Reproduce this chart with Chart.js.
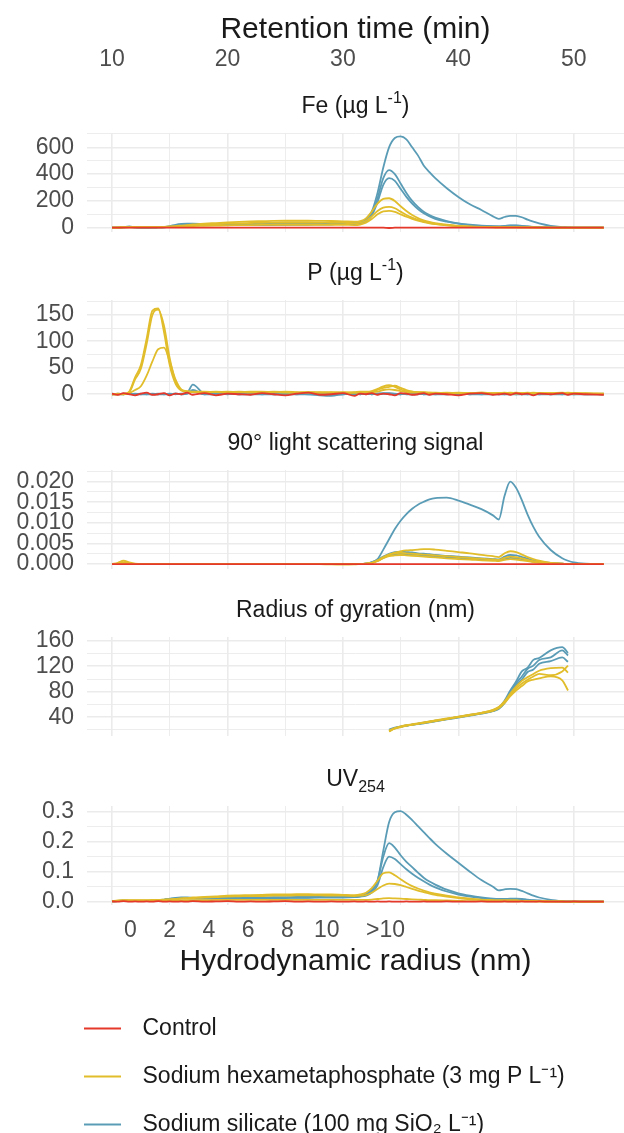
<!DOCTYPE html>
<html>
<head>
<meta charset="utf-8">
<script src="https://cdn.jsdelivr.net/npm/chart.js@4/dist/chart.umd.min.js"></script>
<style>
html, body { margin: 0; padding: 0; background: #fff; overflow: hidden; }
body { width: 624px; height: 1133px; position: relative; }
canvas { position: absolute; left: 0; }
</style>
</head>
<body>
<canvas id="fe" width="624" height="236" style="top:0px"></canvas>
<canvas id="p" width="624" height="168" style="top:236px"></canvas>
<canvas id="ls" width="624" height="168" style="top:406px"></canvas>
<canvas id="rg" width="624" height="168" style="top:573px"></canvas>
<canvas id="uv" width="624" height="250" style="top:742px"></canvas>
<canvas id="key" width="624" height="400" style="top:992px"></canvas>
<script>
// retention time (min) shared by every trace
var retTime = [10,10.5,11,11.5,12,12.5,13,13.5,14,14.5,
  15,15.5,16,16.5,17,18,19,20,21,22,
  23,24,25,26,27,28,29,30,31,31.5,
  32,32.5,33,33.5,34,34.5,35,35.5,36,36.5,
  37,37.5,38,39,40,41,42,43,43.5,44,
  44.5,45,45.5,46,46.5,47,48,49,49.5,50,
  51,52.6];

var timeTicks = [10, 20, 30, 40, 50];
var timeGrid = [10, 15, 20, 25, 30, 35, 40, 45, 50];
var radiusTickPos = [11.6, 15.0, 18.4, 21.8, 25.2, 28.6, 33.7];
var radiusLabels = ['0', '2', '4', '6', '8', '10', '>10'];

var legendNames = ['Control', 'Sodium hexametaphosphate (3 mg P L\u207B\u00B9)', 'Sodium silicate (100 mg SiO\u2082 L\u207B\u00B9)'];

// Fe (ug/L)
var feControl = [0,0,1,0,0,1,0,0,1,0, 0,1,0,0,1,0,0,1,0,0, 1,0,0,1,0,0,1,0,0,1, 0,1,0,0,-2,0,1,0,0,1, 0,0,1,0,0,1,0,0,1,0, 0,1,0,0,1,0,0,1,0,0, 1,0];
var feHex1 = [0,2,4,6,5,5,5,5,6,7, 9,12,16,20,24,30,35,40,44,47, 49,51,52,52,52,51,50,48,46,50, 70,120,180,215,220,200,160,125,95,72, 55,43,34,22,14,9,6,4,4,4, 4,4,3,3,2,2,1,0,0,0, 0,0];
var feHex2 = [0,1,3,4,4,4,4,4,5,5, 7,9,12,15,18,22,26,30,33,35, 37,38,39,39,39,38,37,36,34,38, 52,85,125,150,155,145,120,95,75,58, 45,36,29,19,12,8,5,4,3,3, 3,3,3,2,2,1,1,0,0,0, 0,0];
var feHex3 = [0,1,2,3,3,3,3,3,3,4, 5,6,8,10,12,14,16,18,19,20, 21,22,22,22,22,22,21,21,20,24, 38,65,100,122,125,118,100,82,66,52, 41,33,27,18,11,7,5,3,3,3, 3,3,2,2,1,1,1,0,0,0, 0,0];
var feSil1 = [0,0,5,10,3,1,1,2,3,5, 12,22,28,30,30,28,27,27,28,28, 29,30,30,31,32,33,34,35,36,40, 60,120,260,450,600,670,682,660,600,540, 465,415,370,295,230,175,132,85,66,80, 89,88,78,60,45,32,14,5,3,1, 0,0];
var feSil2 = [0,0,3,6,2,1,1,1,2,3, 8,15,20,22,22,21,20,20,21,21, 22,22,23,23,24,25,26,27,28,32, 50,100,220,370,430,400,330,260,200,155, 120,95,75,50,33,22,15,11,10,13, 17,17,14,10,7,5,2,1,0,0, 0,0];
var feSil3 = [0,0,2,4,2,1,1,1,2,3, 7,14,18,20,20,20,20,20,20,21, 21,22,22,23,24,25,26,27,28,31, 45,90,190,320,370,350,290,230,180,140, 108,85,66,45,30,20,14,10,9,12, 15,15,12,9,6,4,2,1,0,0, 0,0];

// P (ug/L)
var pControl = [1,-1,2,0,-2,1,3,-1,0,2, -2,1,0,3,-1,2,-2,1,0,-1, 2,0,-2,1,3,-1,0,2,-3,1, 0,2,-1,1,0,-2,2,1,-1,0, 2,-1,1,0,-2,1,2,-1,0,1, -1,2,0,1,-2,1,0,2,-1,1, 0,-1];
var pHex1 = [0,1,0,5,32,55,105,158,162,118, 55,20,7,5,4,4,5,4,5,4, 4,5,4,3,4,3,4,3,4,5, 5,6,10,15,17,14,9,6,5,4, 4,3,3,2,3,2,3,2,2,3, 2,3,2,2,3,2,2,2,3,2, 2,1];
var pHex2 = [0,0,1,4,28,48,95,150,160,130, 68,24,8,6,5,5,4,5,4,5, 5,4,5,4,3,4,3,4,3,4, 4,5,8,12,14,16,12,8,5,4, 3,3,2,3,2,2,3,2,2,2, 3,2,2,3,2,2,2,3,2,2, 1,1];
var pHex3 = [0,0,0,2,8,15,35,62,85,88, 62,28,9,5,4,4,4,3,4,3, 3,4,3,3,4,3,3,2,3,3, 3,4,5,8,9,8,6,4,3,3, 3,2,2,2,2,2,2,1,2,2, 2,1,2,2,1,2,1,2,1,1, 1,0];
var pSil1 = [0,1,0,1,0,0,1,0,0,1, 0,1,0,2,18,1,0,1,0,0, 1,0,0,1,0,-2,-3,0,1,0, 1,0,1,2,1,0,1,0,0,1, 0,1,0,0,1,0,0,1,0,0, 1,0,0,1,0,0,1,0,0,1, 0,0];
var pSil2 = [0,0,1,0,1,0,0,1,0,0, 1,0,1,1,8,0,1,0,1,0, 0,1,0,0,1,0,-1,1,0,1, 0,1,0,1,2,1,0,1,0,0, 1,0,0,1,0,1,0,0,1,0, 0,1,0,0,1,0,0,1,0,0, 1,0];
var pSil3 = [1,0,0,1,0,1,0,0,1,0, 0,1,0,1,5,0,0,1,0,1, 0,0,1,0,0,1,0,0,1,0, 1,0,1,1,1,0,0,1,0,1, 0,0,1,0,1,0,1,0,0,1, 0,0,1,0,0,1,0,0,1,0, 0,1];

// 90 degree light scattering
var lsControl = [0,0,0,0,0,0,0,0,0,0, 0,0,0,0,0,0,0,0,0,0, 0,0,0,0,0,0,0,0,0,0, 0,0,0,0,0,0,0,0,0,0, 0,0,0,0,0,0,0,0,0,0, 0,0,0,0,0,0,0,0,0,0, 0,0];
var lsHex1 = [0,0.0003,0.0008,0.0004,0.0001,0,0,0,0,0, 0,0,0,0,0,0,0,0,0,0, 0,0,0,0,0,0,-0.0001,-0.0001,-0.0001,0, 0.0001,0.0003,0.0008,0.0016,0.0023,0.0028,0.0031,0.0033,0.0034,0.0035, 0.0036,0.0036,0.0035,0.0032,0.0029,0.0026,0.0022,0.0019,0.0017,0.0026, 0.0031,0.0029,0.0023,0.0017,0.0012,0.0008,0.0003,0.0001,0,0, 0,0];
var lsHex2 = [0,0.0001,0.0004,0.0002,0,0,0,0,0,0, 0,0,0,0,0,0,0,0,0,0, 0,0,0,0,0,0,0,-0.0001,0,0, 0.0001,0.0003,0.0009,0.0017,0.0023,0.0026,0.0027,0.0026,0.0025,0.0024, 0.0023,0.0022,0.0021,0.0019,0.0017,0.0015,0.0013,0.0011,0.001,0.0015, 0.0018,0.0017,0.0014,0.001,0.0007,0.0005,0.0002,0.0001,0,0, 0,0];
var lsHex3 = [0,0,0.0002,0.0001,0,0,0,0,0,0, 0,0,0,0,0,0,0,0,0,0, 0,0,0,0,0,0,0,0,0,0, 0.0001,0.0002,0.0007,0.0014,0.0019,0.0021,0.0022,0.0021,0.002,0.0019, 0.0018,0.0017,0.0016,0.0014,0.0012,0.0011,0.0009,0.0008,0.0007,0.001, 0.0012,0.0011,0.0009,0.0007,0.0005,0.0003,0.0001,0,0,0, 0,0];
var lsSil1 = [0,0,0,0,0,0,0,0,0,0, 0,0,0,0,0,0,0,0,0,0, 0,0,0,0,0,0,0,0,0,0, 0.0001,0.0005,0.0012,0.0035,0.006,0.0085,0.0105,0.0121,0.0134,0.0144, 0.0151,0.0157,0.016,0.0161,0.0154,0.0144,0.0133,0.0118,0.0108,0.0165, 0.02,0.0185,0.0155,0.012,0.009,0.0066,0.0034,0.0014,0.0008,0.0004, 0.0001,0];
var lsSil2 = [0,0,0,0,0,0,0,0,0,0, 0,0,0,0,0,0,0,0,0,0, 0,0,0,0,0,0,0,0,0,0, 0.0001,0.0004,0.001,0.0018,0.0025,0.0029,0.003,0.0029,0.0028,0.0026, 0.0025,0.0024,0.0022,0.002,0.0018,0.0016,0.0014,0.0012,0.0011,0.0018, 0.0022,0.0021,0.0017,0.0013,0.0009,0.0006,0.0003,0.0001,0,0, 0,0];
var lsSil3 = [0,0,0,0,0,0,0,0,0,0, 0,0,0,0,0,0,0,0,0,0, 0,0,0,0,0,0,0,0,0,0, 0.0001,0.0003,0.0008,0.0015,0.0021,0.0024,0.0025,0.0024,0.0023,0.0022, 0.0021,0.002,0.0019,0.0017,0.0015,0.0013,0.0011,0.001,0.0009,0.0012, 0.0015,0.0014,0.0012,0.0009,0.0006,0.0004,0.0002,0.0001,0,0, 0,0];

// radius of gyration (nm), only measured from ~34 min
var rgControl = [null,null,null,null,null,null,null,null,null,null, null,null,null,null,null,null,null,null,null,null, null,null,null,null,null,null,null,null,null,null, null,null,null,null,null,null,null,null,null,null, null,null,null,null,null,null,null,null,null,null, null,null,null,null,null,null,null,null,null,null, null,null];
var rgHex1 = [null,null,null,null,null,null,null,null,null,null, null,null,null,null,null,null,null,null,null,null, null,null,null,null,null,null,null,null,null,null, null,null,null,null,18,23,25.5,27.5,29,30.5, 32,33.5,35,38,41,44,47,51.5,56,65, 75,85,93,99,104,108,106,112,121,null, null,null];
var rgHex2 = [null,null,null,null,null,null,null,null,null,null, null,null,null,null,null,null,null,null,null,null, null,null,null,null,null,null,null,null,null,null, null,null,null,null,19.5,22,24.5,26.5,28,29.5, 31,32.5,34,37,40,43,46,50,54,62, 73,82,89,96,99,101,104,98,82,null, null,null];
var rgHex3 = [null,null,null,null,null,null,null,null,null,null, null,null,null,null,null,null,null,null,null,null, null,null,null,null,null,null,null,null,null,null, null,null,null,null,17.5,22.5,25,27,28.5,30, 31.5,33,34.5,37.5,40.5,43.5,47,51,55.5,64, 77,88,97,103,108,113,117,118,110,null, null,null];
var rgSil1 = [null,null,null,null,null,null,null,null,null,null, null,null,null,null,null,null,null,null,null,null, null,null,null,null,null,null,null,null,null,null, null,null,null,null,20,23,25,27,28,29.5, 31,32.5,34,37,40,43,46,50,54,63, 78,93,104,116,121,130,134,145,137,null, null,null];
var rgSil2 = [null,null,null,null,null,null,null,null,null,null, null,null,null,null,null,null,null,null,null,null, null,null,null,null,null,null,null,null,null,null, null,null,null,null,19,22.5,25.5,26.5,28.5,30, 31.5,33,34.5,37.5,40.5,43.5,46.5,50.5,55,66, 82,96,112,118,130,133,145,150,141,null, null,null];
var rgSil3 = [null,null,null,null,null,null,null,null,null,null, null,null,null,null,null,null,null,null,null,null, null,null,null,null,null,null,null,null,null,null, null,null,null,null,20.5,23.5,25,27,28.5,29, 30.5,32,33.5,36.5,39.5,42.5,45.5,49.5,53,62, 76,90,99,111,115,124,128,134,127,null, null,null];

// UV 254
var uvControl = [0.001,0,0.002,0,0.001,0,0.001,0,0.002,0, 0.001,0,0.001,0,0.002,0,0.001,0.002,0,0.001, 0,0.001,0.002,0,0.001,0,0.001,0,0.001,0, 0.001,0,0.001,0,0.001,0,0,0.001,0,0, 0.001,0,0,0.001,0,0,0.001,0,0,0.001, 0,0,0.001,0,0,0.001,0,0,0,0.001, 0,0];
var uvHex1 = [0.002,0.004,0.005,0.005,0.005,0.005,0.005,0.006,0.006,0.007, 0.008,0.009,0.011,0.012,0.014,0.016,0.018,0.02,0.021,0.022, 0.023,0.024,0.024,0.025,0.025,0.024,0.024,0.023,0.022,0.024, 0.03,0.045,0.07,0.095,0.098,0.088,0.075,0.062,0.052,0.044, 0.037,0.031,0.027,0.02,0.014,0.01,0.007,0.005,0.004,0.004, 0.004,0.004,0.003,0.003,0.002,0.002,0.001,0.001,0,0, 0,0];
var uvHex2 = [0.001,0.003,0.004,0.004,0.004,0.004,0.004,0.005,0.005,0.006, 0.007,0.008,0.01,0.011,0.012,0.014,0.015,0.017,0.018,0.019, 0.019,0.02,0.02,0.021,0.021,0.021,0.02,0.02,0.019,0.02, 0.022,0.03,0.042,0.054,0.06,0.059,0.055,0.049,0.043,0.037, 0.032,0.027,0.023,0.017,0.012,0.008,0.006,0.004,0.004,0.004, 0.004,0.004,0.003,0.003,0.002,0.002,0.001,0.001,0,0, 0,0];
var uvHex3 = [0.001,0.002,0.002,0.002,0.002,0.002,0.002,0.003,0.003,0.003, 0.003,0.004,0.004,0.005,0.005,0.005,0.006,0.006,0.006,0.006, 0.006,0.006,0.006,0.006,0.006,0.006,0.006,0.006,0.006,0.006, 0.006,0.007,0.009,0.011,0.012,0.011,0.01,0.009,0.008,0.007, 0.006,0.005,0.005,0.004,0.003,0.002,0.002,0.001,0.001,0.001, 0.001,0.001,0.001,0.001,0.001,0,0,0,0,0, 0,0];
var uvSil1 = [0.002,0.003,0.004,0.003,0.002,0.002,0.003,0.004,0.005,0.007, 0.01,0.013,0.014,0.014,0.013,0.012,0.012,0.013,0.013,0.014, 0.014,0.015,0.015,0.016,0.016,0.017,0.017,0.017,0.018,0.02, 0.025,0.04,0.07,0.17,0.265,0.298,0.302,0.29,0.272,0.252, 0.232,0.212,0.193,0.16,0.13,0.1,0.072,0.05,0.038,0.041, 0.043,0.042,0.036,0.028,0.02,0.014,0.006,0.002,0.001,0, 0,0];
var uvSil2 = [0.001,0.002,0.003,0.002,0.002,0.002,0.002,0.003,0.004,0.006, 0.009,0.011,0.012,0.012,0.011,0.011,0.011,0.011,0.012,0.012, 0.012,0.013,0.013,0.014,0.014,0.015,0.015,0.015,0.016,0.018, 0.022,0.035,0.07,0.15,0.195,0.18,0.155,0.133,0.115,0.097, 0.08,0.067,0.057,0.04,0.028,0.02,0.014,0.01,0.009,0.009, 0.01,0.01,0.009,0.007,0.005,0.004,0.002,0.001,0,0, 0,0];
var uvSil3 = [0.001,0.002,0.002,0.002,0.002,0.002,0.002,0.003,0.004,0.005, 0.008,0.01,0.011,0.011,0.011,0.01,0.01,0.011,0.011,0.011, 0.012,0.012,0.012,0.013,0.013,0.014,0.014,0.014,0.015,0.017, 0.02,0.03,0.055,0.115,0.15,0.142,0.125,0.108,0.093,0.08, 0.068,0.057,0.048,0.034,0.024,0.017,0.012,0.009,0.008,0.008, 0.009,0.009,0.008,0.006,0.004,0.003,0.002,0.001,0,0, 0,0];

// y tick values / labels per panel
var feTicks = [0, 200, 400, 600], feLabels = ['0', '200', '400', '600'];
var feGrid = [0, 100, 200, 300, 400, 500, 600, 700];
var pTicks = [0, 50, 100, 150], pLabels = ['0', '50', '100', '150'];
var pGrid = [0, 25, 50, 75, 100, 125, 150, 175];
var lsTicks = [0, 0.005, 0.01, 0.015, 0.02], lsLabels = ['0.000', '0.005', '0.010', '0.015', '0.020'];
var lsGrid = [0, 0.0025, 0.005, 0.0075, 0.01, 0.0125, 0.015, 0.0175, 0.02, 0.0225];
var rgTicks = [40, 80, 120, 160], rgLabels = ['40', '80', '120', '160'];
var rgGrid = [20, 40, 60, 80, 100, 120, 140, 160];
var uvTicks = [0, 0.1, 0.2, 0.3], uvLabels = ['0.0', '0.1', '0.2', '0.3'];
var uvGrid = [0, 0.05, 0.1, 0.15, 0.2, 0.25, 0.3];

var RED = '#e5372a', YELLOW = '#e1bd2b', BLUE = '#5a9cb6';
var GRID = '#ebebeb';
var X_MIN = 7.835, X_MAX = 54.35;

Chart.defaults.font.family = '"Liberation Sans", Arial, sans-serif';
Chart.defaults.color = '#4d4d4d';

function isIn(list, v) {
  return list.some(function (t) { return Math.abs(t - v) < 1e-9; });
}

function toTicks(list) {
  return list.map(function (v) { return {value: v}; });
}

// fixed box size, no extra label padding pushed into the layout
function fixSize(w, h) {
  return function (s) {
    if (w !== null) s.width = w;
    if (h !== null) s.height = h;
    s.paddingLeft = 0; s.paddingRight = 0; s.paddingTop = 0; s.paddingBottom = 0;
  };
}

// panel heading with optional super/subscript parts
var panelTitle = {
  id: 'panelTitle',
  afterDraw: function (chart, args, opts) {
    if (!opts.parts) return;
    var ctx = chart.ctx, area = chart.chartArea;
    var fam = Chart.defaults.font.family;
    var segs = opts.parts.map(function (p) {
      return {t: p[0], k: p[1], f: (p[1] ? 16 : 23) + 'px ' + fam};
    });
    ctx.save();
    var w = 0;
    segs.forEach(function (s) { ctx.font = s.f; s.w = ctx.measureText(s.t).width; w += s.w; });
    var x = (area.left + area.right) / 2 - w / 2;
    var y = area.top - 26;
    ctx.fillStyle = '#1a1a1a';
    ctx.textBaseline = 'middle';
    ctx.textAlign = 'left';
    segs.forEach(function (s) {
      ctx.font = s.f;
      var dy = s.k === 'sup' ? -8 : (s.k === 'sub' ? 8 : 0);
      ctx.fillText(s.t, x, y + dy);
      x += s.w;
    });
    ctx.restore();
  }
};

function keyIcon(colour) {
  var c = document.createElement('canvas');
  c.width = 47; c.height = 4;
  var g = c.getContext('2d');
  g.fillStyle = colour;
  g.fillRect(0, 1, 37, 2);
  return c;
}

function makePanel(id, cfg) {
  var colours = [RED, YELLOW, YELLOW, YELLOW, BLUE, BLUE, BLUE];
  var datasets = cfg.series.map(function (s, i) {
    return {
      label: 'trace ' + i,
      data: retTime.map(function (t, j) { return {x: t, y: s[j]}; }),
      borderColor: colours[i],
      borderWidth: 1.8,
      pointRadius: 0,
      cubicInterpolationMode: 'monotone',
      spanGaps: false
    };
  });

  var scales = {
    x: {
      type: 'linear', min: X_MIN, max: X_MAX,
      afterBuildTicks: function (s) { s.ticks = toTicks(timeGrid); },
      afterFit: fixSize(null, 0),
      ticks: {display: false, autoSkip: false},
      grid: {color: GRID, drawTicks: false,
        lineWidth: function (c) { return c.tick && isIn(timeTicks, c.tick.value) ? 1.6 : 0.9; }},
      border: {display: false}
    },
    y: {
      type: 'linear', min: cfg.yMin, max: cfg.yMax,
      afterBuildTicks: function (s) { s.ticks = toTicks(cfg.yGrid); },
      afterFit: fixSize(87, null),
      ticks: {
        autoSkip: false, padding: 13, color: '#4d4d4d', font: {size: 23},
        callback: function (v) {
          for (var i = 0; i < cfg.yTicks.length; i++) {
            if (Math.abs(cfg.yTicks[i] - v) < 1e-9) return cfg.yLabels[i];
          }
          return '';
        }
      },
      grid: {color: GRID, drawTicks: false,
        lineWidth: function (c) { return c.tick && isIn(cfg.yTicks, c.tick.value) ? 1.6 : 0.9; }},
      border: {display: false}
    }
  };

  if (cfg.topAxis) {
    scales.x2 = {
      type: 'linear', position: 'top', min: X_MIN, max: X_MAX,
      afterBuildTicks: function (s) { s.ticks = toTicks(timeTicks); },
      afterFit: fixSize(null, 133),
      grid: {display: false, drawTicks: false},
      border: {display: false},
      ticks: {autoSkip: false, maxRotation: 0, padding: 59.5, color: '#4d4d4d', font: {size: 23},
        callback: function (v) { return String(v); }},
      title: {display: true, text: 'Retention time (min)', color: '#1a1a1a', font: {size: 30}, padding: {top: 12, bottom: 0}}
    };
  }
  if (cfg.bottomAxis) {
    scales.xr = {
      type: 'linear', position: 'bottom', min: X_MIN, max: X_MAX,
      afterBuildTicks: function (s) { s.ticks = toTicks(radiusTickPos); },
      afterFit: fixSize(null, 87),
      grid: {display: false, drawTicks: false},
      border: {display: false},
      ticks: {autoSkip: false, maxRotation: 0, padding: 12, color: '#4d4d4d', font: {size: 23},
        callback: function (v, i) { return radiusLabels[i]; }},
      title: {display: true, text: 'Hydrodynamic radius (nm)', color: '#1a1a1a', font: {size: 30}, padding: {top: 0, bottom: 12}}
    };
  }

  new Chart(document.getElementById(id), {
    type: 'line',
    data: {datasets: datasets},
    options: {
      responsive: false,
      animation: false,
      events: [],
      layout: {padding: {top: cfg.padTop, bottom: cfg.padBottom, left: 0, right: 0}},
      scales: scales,
      plugins: {
        legend: {display: false},
        tooltip: {enabled: false},
        panelTitle: {parts: cfg.title}
      }
    },
    plugins: [panelTitle]
  });
}

makePanel('fe', {
  series: [feControl, feHex1, feHex2, feHex3, feSil1, feSil2, feSil3],
  yMin: -32, yMax: 707, yTicks: feTicks, yLabels: feLabels, yGrid: feGrid,
  padTop: 0, padBottom: 4, topAxis: true,
  title: [['Fe (\u00B5g L', ''], ['-1', 'sup'], [')', '']]
});
makePanel('p', {
  series: [pControl, pHex1, pHex2, pHex3, pSil1, pSil2, pSil3],
  yMin: -9, yMax: 178, yTicks: pTicks, yLabels: pLabels, yGrid: pGrid,
  padTop: 64, padBottom: 5,
  title: [['P (\u00B5g L', ''], ['-1', 'sup'], [')', '']]
});
makePanel('ls', {
  series: [lsControl, lsHex1, lsHex2, lsHex3, lsSil1, lsSil2, lsSil3],
  yMin: -0.0012, yMax: 0.0228, yTicks: lsTicks, yLabels: lsLabels, yGrid: lsGrid,
  padTop: 64, padBottom: 5,
  title: [['90\u00B0 light scattering signal', '']]
});
makePanel('rg', {
  series: [rgControl, rgHex1, rgHex2, rgHex3, rgSil1, rgSil2, rgSil3],
  yMin: 10.5, yMax: 166, yTicks: rgTicks, yLabels: rgLabels, yGrid: rgGrid,
  padTop: 64, padBottom: 5,
  title: [['Radius of gyration (nm)', '']]
});
makePanel('uv', {
  series: [uvControl, uvHex1, uvHex2, uvHex3, uvSil1, uvSil2, uvSil3],
  yMin: -0.011, yMax: 0.319, yTicks: uvTicks, yLabels: uvLabels, yGrid: uvGrid,
  padTop: 64, padBottom: 0, bottomAxis: true,
  title: [['UV', ''], ['254', 'sub']]
});

// legend on its own canvas under the panels
new Chart(document.getElementById('key'), {
  type: 'line',
  data: {datasets: []},
  options: {
    responsive: false,
    animation: false,
    events: [],
    layout: {padding: {left: 59, top: 0}},
    scales: {x: {display: false}, y: {display: false}},
    plugins: {
      tooltip: {enabled: false},
      legend: {
        display: true, position: 'top', align: 'start', maxHeight: 220,
        labels: {
          usePointStyle: true, pointStyleWidth: 47, padding: 25, color: '#1a1a1a', font: {size: 23},
          generateLabels: function () {
            return legendNames.map(function (name, i) {
              var col = [RED, YELLOW, BLUE][i];
              return {text: name, pointStyle: keyIcon(col), fillStyle: col, strokeStyle: col,
                lineWidth: 0, hidden: false, fontColor: '#1a1a1a'};
            });
          }
        }
      }
    }
  }
});
</script>
</body>
</html>
